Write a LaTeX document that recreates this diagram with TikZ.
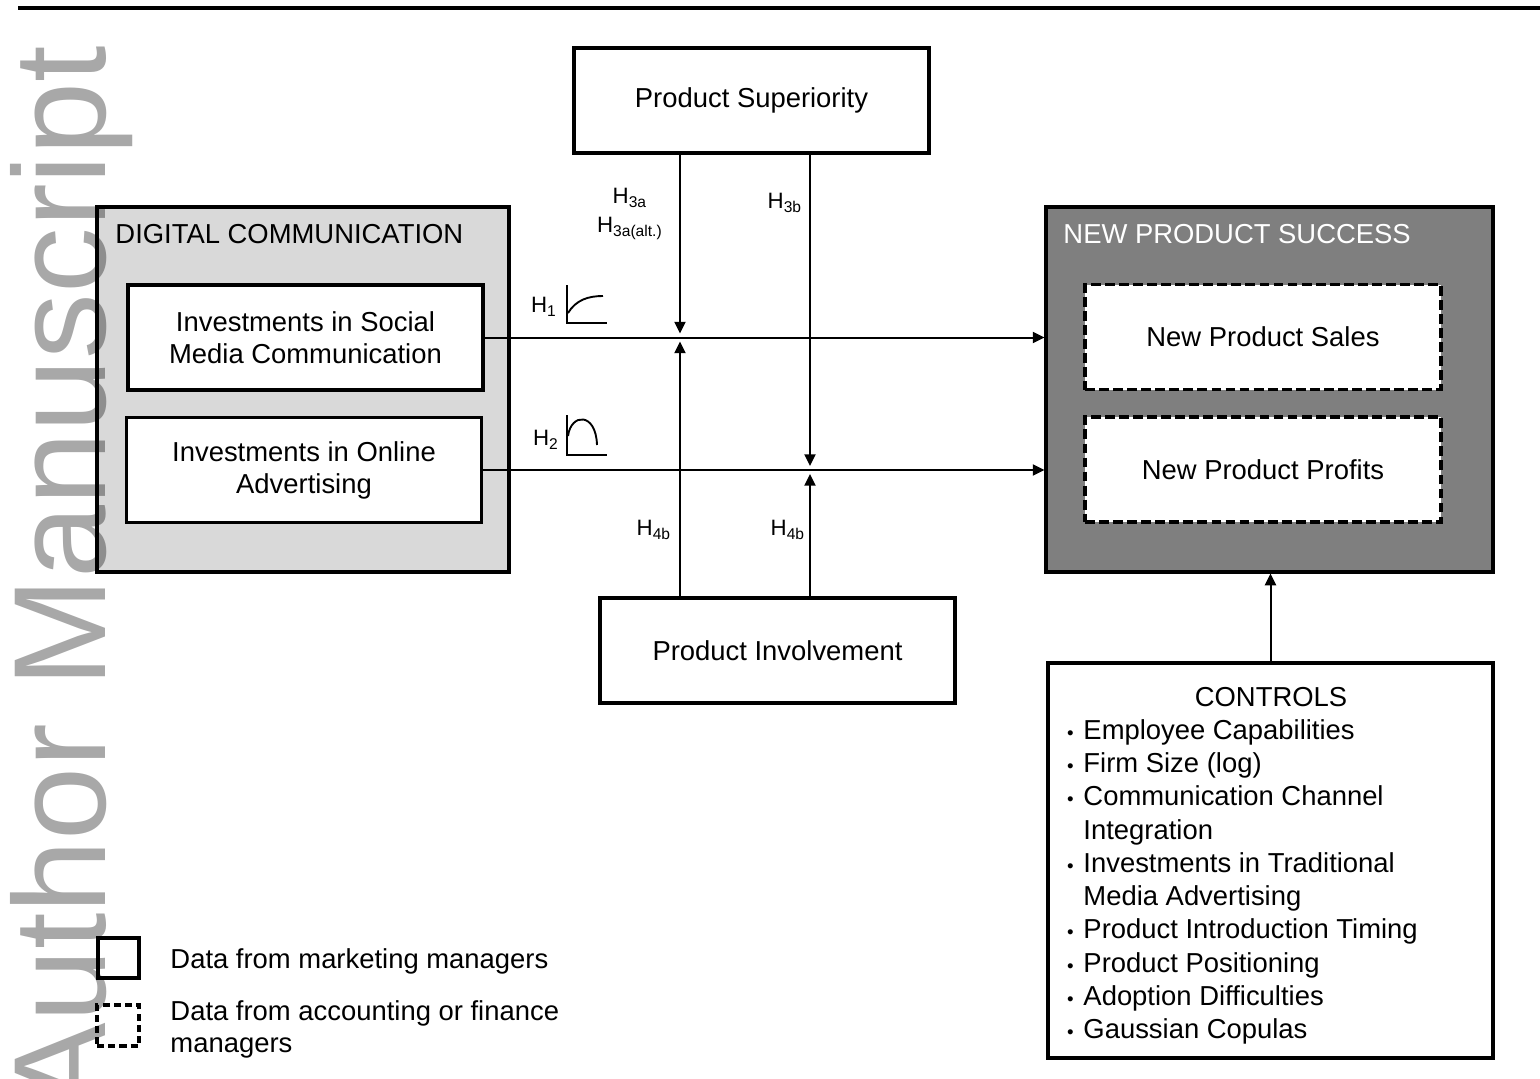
\documentclass[tikz,border=0pt]{standalone}
\usepackage{fontspec}
\setmainfont{Liberation Sans}
\usetikzlibrary{arrows.meta}
\definecolor{dcgray}{HTML}{D9D9D9}
\definecolor{npsgray}{HTML}{7F7F7F}
\definecolor{wmgray}{HTML}{A8A8A8}
\newcommand{\ctrlbullet}{\makebox[0.255cm][l]{\hspace{0.01cm}\footnotesize\textbullet}}
\begin{document}
\begin{tikzpicture}[x=0.015cm,y=-0.015cm]
  \tikzset{box/.style = {draw, line width=1.3pt, fill=white, minimum width=5.325cm, minimum height=1.575cm, align=center, inner sep=0pt, font=\fontsize{11.7}{13.6}\selectfont}}
  \tikzset{dbox/.style = {box, dash pattern=on 4.2pt off 1.8pt, minimum width=5.34cm}}
  \tikzset{frame/.style = {draw, line width=1.3pt, inner sep=0pt}}
  \tikzset{txt/.style = {inner sep=0pt, font=\fontsize{11.7}{13.6}\selectfont}}
  \tikzset{hlab/.style = {inner sep=0pt, font=\fontsize{9.5}{11}\selectfont}}
  \tikzset{arr/.style = {-{Triangle[length=5pt,width=4.7pt]}, line width=0.85pt}}
  \tikzset{icon/.style = {line width=0.8pt}}

\useasboundingbox (0,0) rectangle (1540,1079);
\draw[line width=1.3pt] (18,8) -- (1540,8);

% digital communication
\node[frame, fill=dcgray, minimum width=6.18cm, minimum height=5.475cm] (dc) at (303,389.5) {};
\node[txt, anchor=west] (dclab) at (115,234) {DIGITAL COMMUNICATION};
\node[box] (social) at (305.5,337.5) {Investments in Social\\Media Communication};
\node[box] (online) at (304,470) {Investments in Online\\Advertising};

% new product success
\node[frame, fill=npsgray, minimum width=6.705cm, minimum height=5.475cm] (nps) at (1269.5,389.5) {};
\node[txt, anchor=west, text=white] (npslab) at (1063,234) {NEW PRODUCT SUCCESS};
\node[dbox] (sales) at (1263,337) {New Product Sales};
\node[dbox] (profits) at (1263,469.5) {New Product Profits};

% moderators
\node[box] (ps) at (751.5,100.5) {Product Superiority};
\node[box] (pi) at (777.5,650.5) {Product Involvement};

% controls
\node[frame, minimum width=6.675cm, minimum height=5.925cm] (ctrl) at (1270.5,860.5) {};
\node[txt] (ctrlhead) at (1271,697) {CONTROLS};
\node[txt, anchor=north west, align=left, font=\fontsize{11.7}{14.2}\selectfont] (ctrllist) at (1066,719) {%
\ctrlbullet Employee Capabilities\\
\ctrlbullet Firm Size (log)\\
\ctrlbullet Communication Channel\\
\hspace*{0.255cm}Integration\\
\ctrlbullet Investments in Traditional\\
\hspace*{0.255cm}Media Advertising\\
\ctrlbullet Product Introduction Timing\\
\ctrlbullet Product Positioning\\
\ctrlbullet Adoption Difficulties\\
\ctrlbullet Gaussian Copulas};

% legend
\node[frame, minimum width=0.615cm, minimum height=0.6cm] (legsolid) at (118.5,958) {};
\node[frame, dash pattern=on 3pt off 1.8pt, minimum width=0.63cm, minimum height=0.615cm] (legdash) at (118,1025.5) {};
\node[txt, anchor=west] (legsolidtxt) at (170,961) {Data from marketing managers};
\node[txt, anchor=west, align=left] (legdashtxt) at (170,1029) {Data from accounting or finance\\managers};

% paths
\coordinate (xa) at (680,0);
\coordinate (xb) at (810,0);
\draw[arr] (social.east) -- (social.east -| nps.west);
\draw[arr] (online.east) -- (online.east -| nps.west);
\draw[arr, shorten >=1.7pt] (xa |- ps.south) -- (xa |- social.east);
\draw[arr, shorten >=1.7pt] (xa |- pi.north) -- (xa |- social.east);
\draw[arr, shorten >=1.7pt] (xb |- ps.south) -- (xb |- online.east);
\draw[arr, shorten >=1.7pt] (xb |- pi.north) -- (xb |- online.east);
\draw[arr] (ctrl.north) -- (ctrl.north |- nps.south);

% hypotheses
\node[hlab] (h3a) at (630,198) {H\textsubscript{3a}};
\node[hlab] (h3aalt) at (630,228) {H\textsubscript{3a(alt.)}};
\node[hlab] (h3b) at (785,203) {H\textsubscript{3b}};
\node[hlab] (h4bl) at (654,530) {H\textsubscript{4b}};
\node[hlab] (h4br) at (788,530) {H\textsubscript{4b}};
\node[hlab] (h1) at (544,307) {H\textsubscript{1}};
\node[hlab] (h2) at (546,440) {H\textsubscript{2}};
\draw[icon] (567,285) -- (567,323) -- (607,323);
\draw[icon] (568,313) .. controls (576,300) and (588,296) .. (603,296);
\draw[icon] (567,415) -- (567,455) -- (607,455);
\draw[icon] (568,436) .. controls (571,413) and (596,412) .. (597,445);

% watermark
\begin{scope}[blend mode=multiply]
\node[rotate=90, anchor=base east, inner sep=0pt, text=wmgray, font=\fontsize{56}{56}\selectfont] (wm) at (106,45) {Author Manuscript};
\end{scope}
\end{tikzpicture}
\end{document}
